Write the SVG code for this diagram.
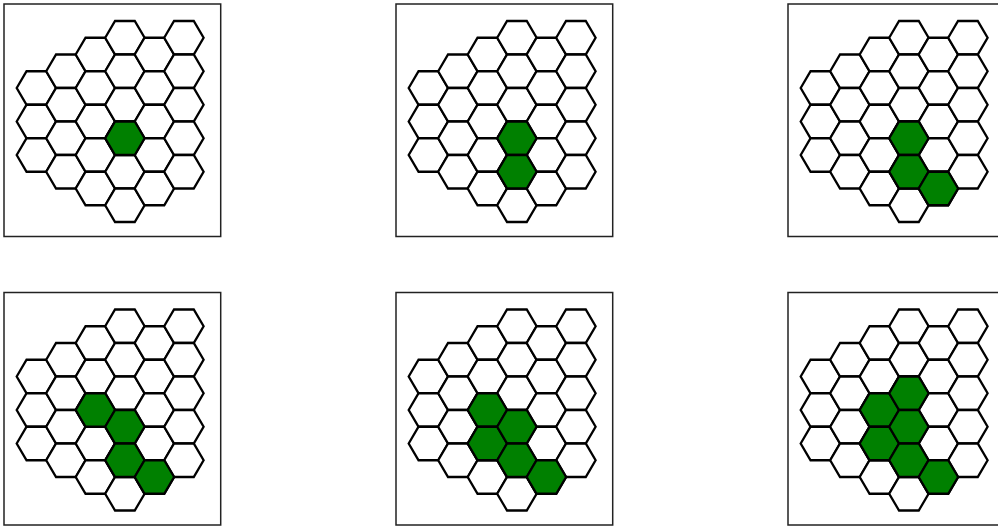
<svg xmlns="http://www.w3.org/2000/svg" xmlns:xlink="http://www.w3.org/1999/xlink" width="998" height="527" viewBox="0 0 998 527">
  <style>
    .frame { fill: #ffffff; stroke: #222222; stroke-width: 1.5; }
    .hex { stroke: #000000; stroke-width: 2.3; stroke-linejoin: miter; }
    .w { fill: #ffffff; }
    .g { fill: #008000; }
  </style>
  <defs>
    <path id="hex" d="M-19.7,0 L-9.85,-16.75 L9.85,-16.75 L19.7,0 L9.85,16.75 L-9.85,16.75 Z"/>
    <g id="board" class="hex w">
      <use href="#hex" x="36.4" y="88"/>
      <use href="#hex" x="36.4" y="121.5"/>
      <use href="#hex" x="36.4" y="155"/>
      <use href="#hex" x="65.9" y="71.25"/>
      <use href="#hex" x="65.9" y="104.75"/>
      <use href="#hex" x="65.9" y="138.25"/>
      <use href="#hex" x="65.9" y="171.75"/>
      <use href="#hex" x="95.4" y="54.5"/>
      <use href="#hex" x="95.4" y="88"/>
      <use href="#hex" x="95.4" y="121.5"/>
      <use href="#hex" x="95.4" y="155"/>
      <use href="#hex" x="95.4" y="188.5"/>
      <use href="#hex" x="124.9" y="37.75"/>
      <use href="#hex" x="124.9" y="71.25"/>
      <use href="#hex" x="124.9" y="104.75"/>
      <use href="#hex" x="124.9" y="138.25"/>
      <use href="#hex" x="124.9" y="171.75"/>
      <use href="#hex" x="124.9" y="205.25"/>
      <use href="#hex" x="154.4" y="54.5"/>
      <use href="#hex" x="154.4" y="88"/>
      <use href="#hex" x="154.4" y="121.5"/>
      <use href="#hex" x="154.4" y="155"/>
      <use href="#hex" x="154.4" y="188.5"/>
      <use href="#hex" x="183.9" y="37.75"/>
      <use href="#hex" x="183.9" y="71.25"/>
      <use href="#hex" x="183.9" y="104.75"/>
      <use href="#hex" x="183.9" y="138.25"/>
      <use href="#hex" x="183.9" y="171.75"/>
    </g>
    <g id="panel">
      <rect class="frame" x="4" y="4" width="216.7" height="232.5"/>
      <use href="#board"/>
    </g>
  </defs>

  <g id="panel1">
    <use href="#panel"/>
    <g class="hex g">
      <use href="#hex" x="124.9" y="138.25"/>
    </g>
  </g>

  <g id="panel2" transform="translate(392,0)">
    <use href="#panel"/>
    <g class="hex g">
      <use href="#hex" x="124.9" y="138.25"/>
      <use href="#hex" x="124.9" y="171.75"/>
    </g>
  </g>

  <g id="panel3" transform="translate(784,0)">
    <use href="#panel"/>
    <g class="hex g">
      <use href="#hex" x="124.9" y="138.25"/>
      <use href="#hex" x="124.9" y="171.75"/>
      <use href="#hex" x="154.4" y="188.5"/>
    </g>
  </g>

  <g id="panel4" transform="translate(0,288.5)">
    <use href="#panel"/>
    <g class="hex g">
      <use href="#hex" x="95.4" y="121.5"/>
      <use href="#hex" x="124.9" y="138.25"/>
      <use href="#hex" x="124.9" y="171.75"/>
      <use href="#hex" x="154.4" y="188.5"/>
    </g>
  </g>

  <g id="panel5" transform="translate(392,288.5)">
    <use href="#panel"/>
    <g class="hex g">
      <use href="#hex" x="95.4" y="121.5"/>
      <use href="#hex" x="95.4" y="155"/>
      <use href="#hex" x="124.9" y="138.25"/>
      <use href="#hex" x="124.9" y="171.75"/>
      <use href="#hex" x="154.4" y="188.5"/>
    </g>
  </g>

  <g id="panel6" transform="translate(784,288.5)">
    <use href="#panel"/>
    <g class="hex g">
      <use href="#hex" x="95.4" y="121.5"/>
      <use href="#hex" x="95.4" y="155"/>
      <use href="#hex" x="124.9" y="104.75"/>
      <use href="#hex" x="124.9" y="138.25"/>
      <use href="#hex" x="124.9" y="171.75"/>
      <use href="#hex" x="154.4" y="188.5"/>
    </g>
  </g>

  <g id="connectors"/>
</svg>
